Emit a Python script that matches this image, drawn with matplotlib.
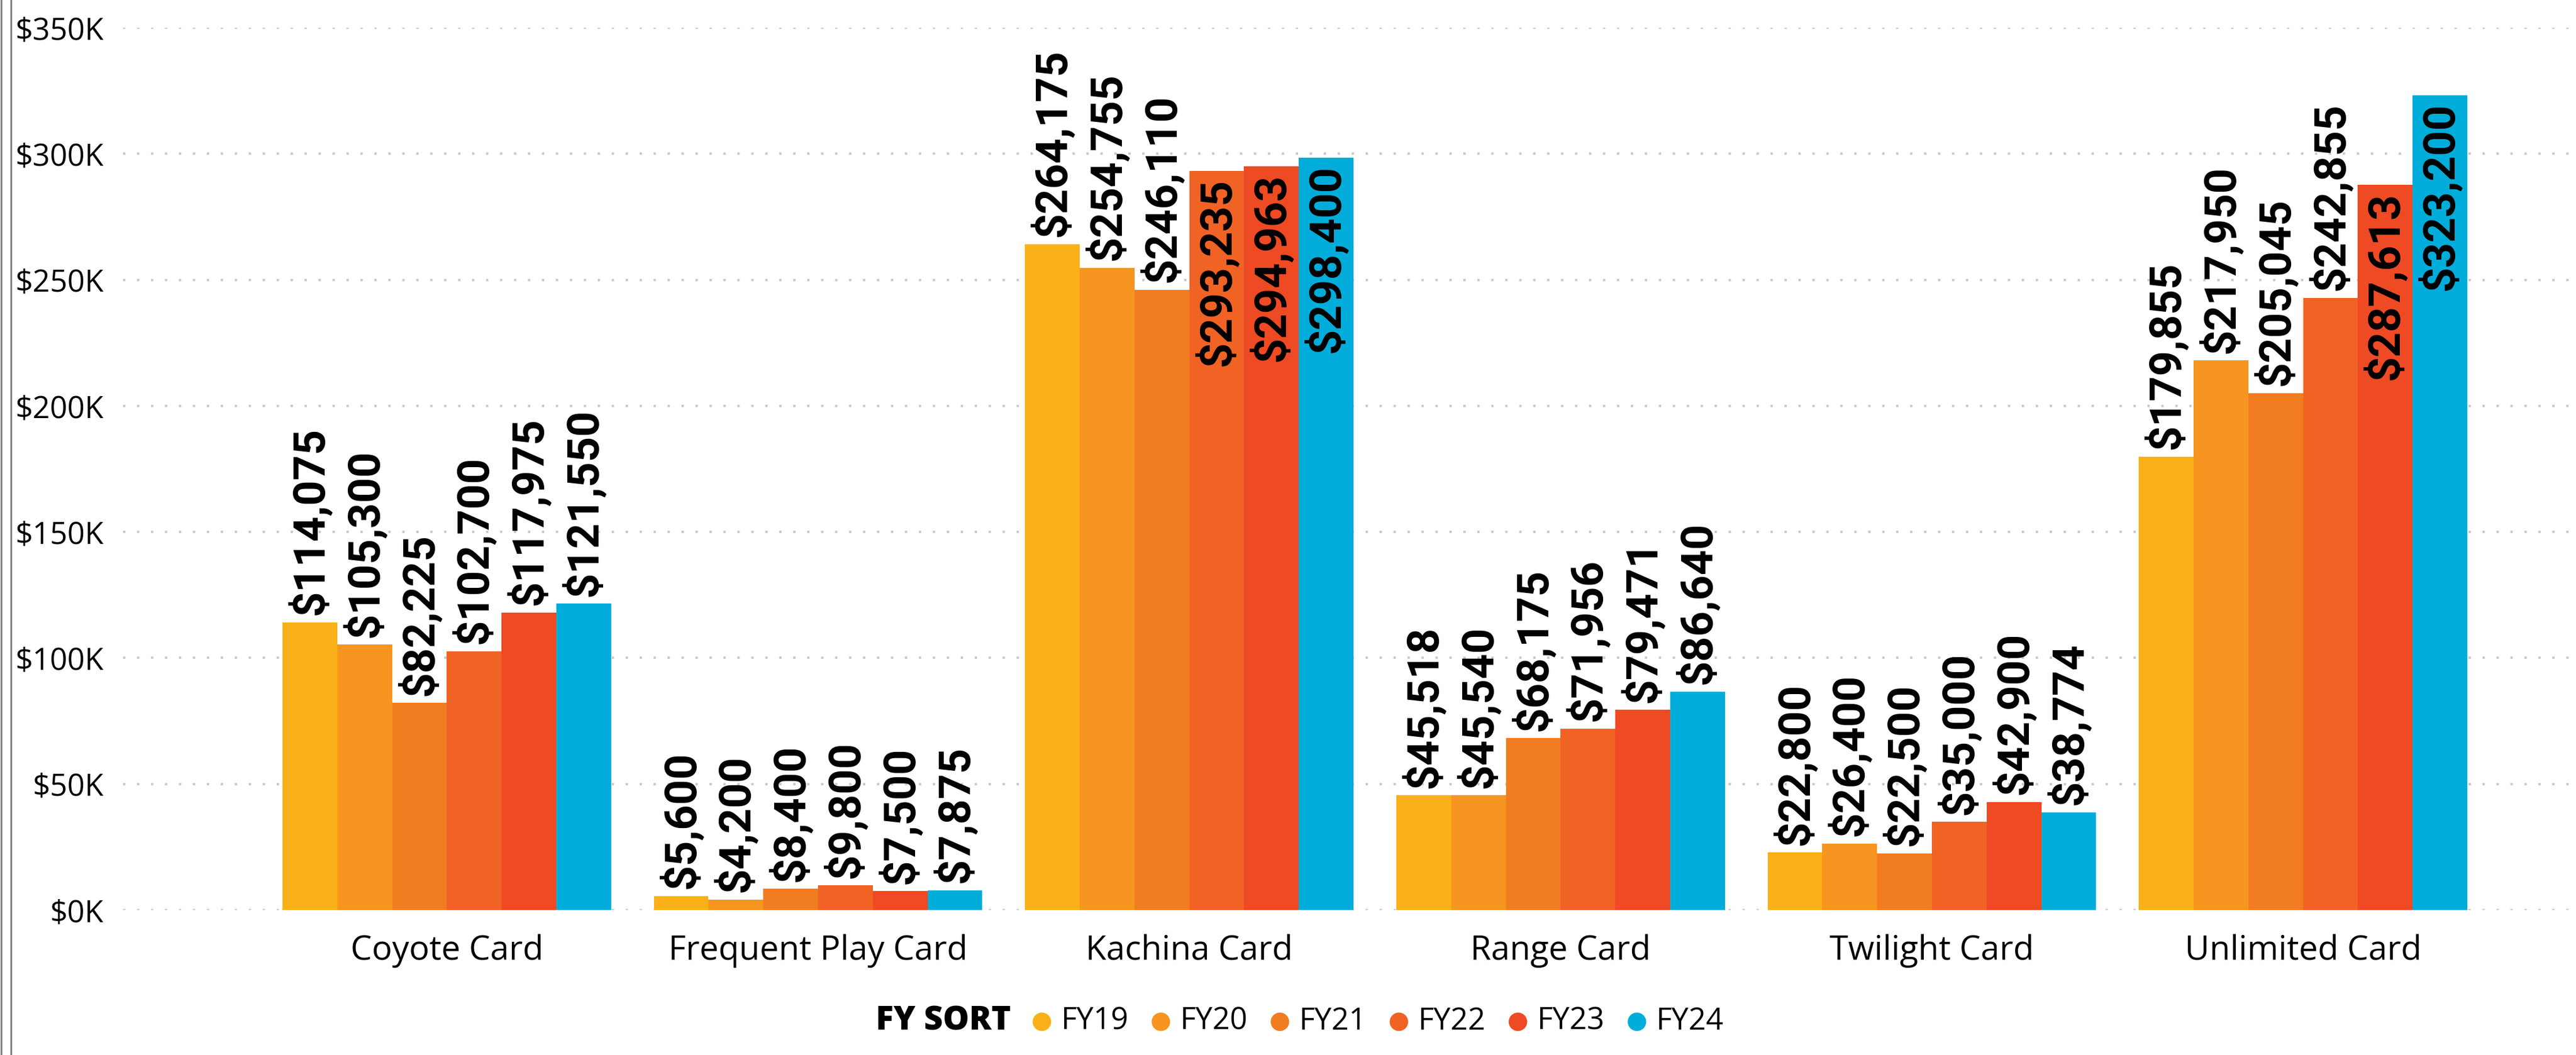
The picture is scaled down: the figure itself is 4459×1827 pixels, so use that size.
import matplotlib
matplotlib.use("Agg")
import matplotlib.pyplot as plt
from matplotlib.lines import Line2D
from matplotlib.ticker import FuncFormatter
import numpy as np

plt.rcParams["font.family"] = ["Open Sans", "DejaVu Sans"]

categories = ["Coyote Card", "Frequent Play Card", "Kachina Card",
              "Range Card", "Twilight Card", "Unlimited Card"]
years = ["FY19", "FY20", "FY21", "FY22", "FY23", "FY24"]

fy19 = [114075, 5600, 264175, 45518, 22800, 179855]
fy20 = [105300, 4200, 254755, 45540, 26400, 217950]
fy21 = [82225, 8400, 246110, 68175, 22500, 205045]
fy22 = [102700, 9800, 293235, 71956, 35000, 242855]
fy23 = [117975, 7500, 294963, 79471, 42900, 287613]
fy24 = [121550, 7875, 298400, 86640, 38774, 323200]
series = [fy19, fy20, fy21, fy22, fy23, fy24]

colors = ["#FAB018", "#F6951F", "#F27C20", "#F06325", "#EE4A24", "#00ADDA"]

W, H = 4459, 1827
fig = plt.figure(figsize=(W / 100, H / 100), dpi=100)
ax = fig.add_axes([213 / W, (H - 1576) / H, 1 - 213 / W, (1576 - 48) / H])

x = np.arange(len(categories))
bw = 200 / 226 / 6
labels = []
for i, (vals, c) in enumerate(zip(series, colors)):
    pos = x + (i - 2.5) * bw
    ax.bar(pos, vals, width=bw, color=c, zorder=2)
    for p, v in zip(pos, vals):
        t = ax.annotate(f"${v:,}", (p, v), xytext=(0, 9), textcoords="offset points",
                        rotation=90, ha="center", va="bottom", fontsize=55,
                        family=["Roboto", "DejaVu Sans"], fontweight="bold",
                        color="black", zorder=3)
        labels.append(t)

ax.set_xlim(-0.872, 5.735)
ax.set_ylim(0, 350000)
ax.set_yticks(np.arange(0, 350001, 50000))
ax.yaxis.set_major_formatter(FuncFormatter(lambda v, _: f"${int(v / 1000)}K"))
ax.set_xticks(x)
ax.set_xticklabels(categories)
ax.tick_params(axis="y", length=0, pad=24, labelsize=38)
ax.tick_params(axis="x", length=0, pad=30, labelsize=42)
ax.yaxis.grid(True, color="#C8C8C8", linestyle=(0, (1, 5)), linewidth=2.9)
ax.set_axisbelow(True)
for s in ax.spines.values():
    s.set_visible(False)

# labels that would run past the top go inside the bar
fig.canvas.draw()
top = ax.get_window_extent().y1
for t in labels:
    if t.get_window_extent().y1 > top:
        t.set_position((0, -9))
        t.set_va("top")

# left border of the visual
for bx in (1.5, 19):
    fig.add_artist(Line2D([bx / W, bx / W], [0, 1], transform=fig.transFigure,
                          color="#808080", lw=2.2))

# legend
ly = 1 - 1769 / H
fig.text(1516 / W, ly, "FY SORT", fontsize=41, fontweight="heavy", va="center", ha="left")
for i, (name, c) in enumerate(zip(years, colors)):
    mx = (1803 + i * 206) / W
    fig.add_artist(Line2D([mx], [ly], transform=fig.transFigure, marker="o",
                          markersize=22, color=c, linestyle="none"))
    fig.text(mx + 34 / W, ly, name, fontsize=38, va="center", ha="left")

fig.savefig("out.png", dpi=100)
